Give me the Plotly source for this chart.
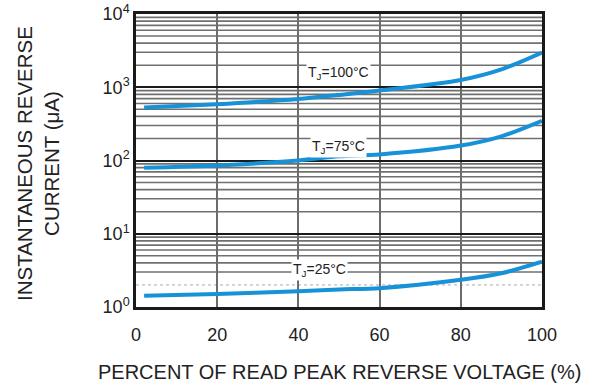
import math
import plotly.graph_objects as go

# Percent of rated peak reverse voltage
voltage_pct = [2, 20, 40, 50, 60, 80, 90, 100]

# Instantaneous reverse current (uA) per junction temperature
current_tj100 = [528, 588, 690, 785, 900, 1257, 1755, 2985]
current_tj75 = [79.6, 85.5, 100, 114, 121, 160, 214, 349]
current_tj25 = [1.42, 1.51, 1.64, 1.74, 1.81, 2.35, 2.89, 4.16]

series_labels = ["T<sub>J</sub>=100°C", "T<sub>J</sub>=75°C", "T<sub>J</sub>=25°C"]
label_x = [49.8, 49.8, 45.1]
label_y = [1563, 151, 3.2]

x_ticks = [0, 20, 40, 60, 80, 100]
y_decades = [0, 1, 2, 3, 4]

FONT = "Liberation Sans, Arial, sans-serif"
CURVE = "#1792d8"

fig = go.Figure()
for ys in (current_tj100, current_tj75, current_tj25):
    fig.add_trace(go.Scatter(
        x=voltage_pct, y=ys, mode="lines",
        line=dict(color=CURVE, width=4, shape="spline", smoothing=0.8),
        showlegend=False, hoverinfo="skip",
    ))

# Minor grid lines inside each decade (2..9 x 10^k)
shapes = []
for k in y_decades[:-1]:
    for m in range(2, 10):
        v = m * 10 ** k
        faint = (k == 0 and m == 2)
        shapes.append(dict(
            type="line", xref="paper", yref="y", x0=0, x1=1, y0=v, y1=v,
            layer="below",
            line=dict(color="#a8aaa8" if faint else "#6e716e",
                      width=1 if faint else 1.6,
                      dash="dot" if faint else "solid"),
        ))

annotations = []
for txt, lx, ly in zip(series_labels, label_x, label_y):
    annotations.append(dict(
        x=lx, y=math.log10(ly), xref="x", yref="y", text=txt,
        showarrow=False, bgcolor="white", borderpad=1,
        font=dict(family=FONT, size=14, color="#222"),
    ))

annotations.append(dict(
    x=-0.24, y=0.49, xref="paper", yref="paper", textangle=-90,
    text="INSTANTANEOUS REVERSE<br>CURRENT (μA)", showarrow=False,
    xanchor="center", yanchor="middle",
    font=dict(family=FONT, size=20.5, color="#222"),
))
annotations.append(dict(
    x=0.5, y=-0.222, xref="paper", yref="paper",
    text="PERCENT OF READ PEAK REVERSE VOLTAGE (%)", showarrow=False,
    xanchor="center", yanchor="middle",
    font=dict(family=FONT, size=20, color="#222"),
))

fig.update_layout(
    width=593, height=388,
    margin=dict(l=135.5, r=51, t=14, b=81),
    paper_bgcolor="white", plot_bgcolor="white",
    shapes=shapes, annotations=annotations,
    xaxis=dict(
        range=[0, 100], tickvals=x_ticks, ticktext=[str(t) for t in x_ticks],
        showgrid=True, gridcolor="#6a6d6a", gridwidth=1.6,
        showline=True, linecolor="#1a1a1a", linewidth=2.5, mirror=True,
        ticks="", ticklabelstandoff=10, zeroline=False, automargin=False,
        tickfont=dict(family=FONT, size=18, color="#222"),
    ),
    yaxis=dict(
        type="log", range=[0, 4],
        tickvals=[10 ** d for d in y_decades],
        ticktext=[f"10<sup>{d}</sup>" for d in y_decades],
        showgrid=True, gridcolor="#1a1a1a", gridwidth=2,
        showline=True, linecolor="#1a1a1a", linewidth=2.5, mirror=True,
        ticks="", zeroline=False, automargin=False,
        tickfont=dict(family=FONT, size=18, color="#222"),
    ),
)

fig.write_html("out.html")
